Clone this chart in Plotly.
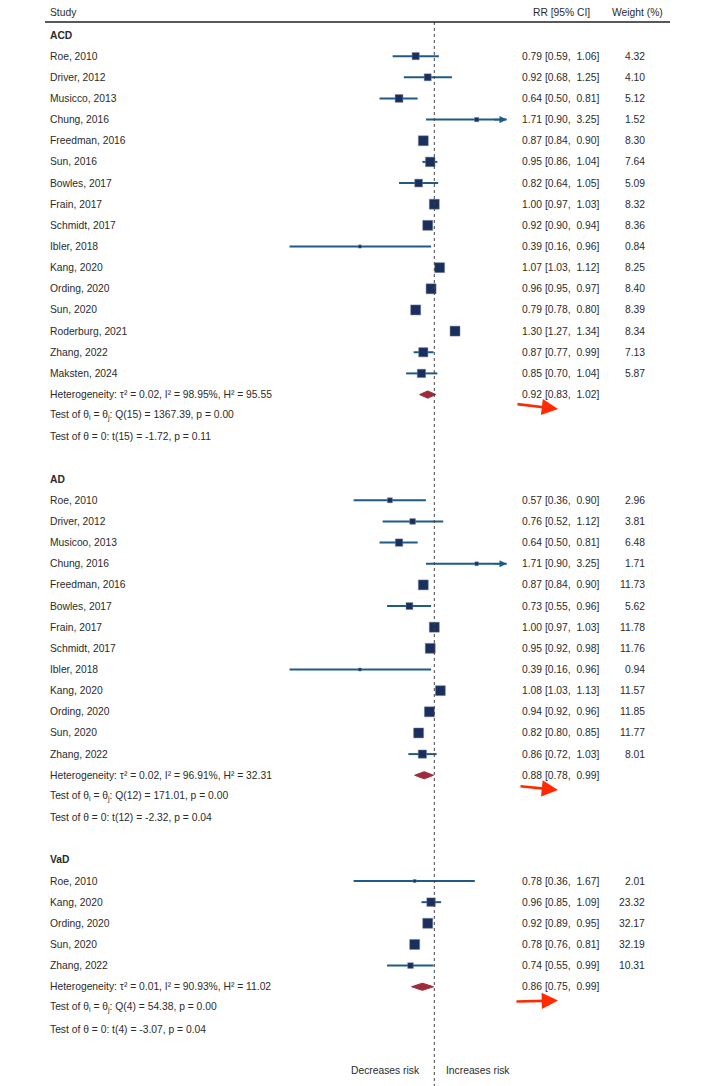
import math
import plotly.graph_objects as go

# ---------------- data ----------------
acd_studies = ["Roe, 2010", "Driver, 2012", "Musicco, 2013", "Chung, 2016", "Freedman, 2016",
               "Sun, 2016", "Bowles, 2017", "Frain, 2017", "Schmidt, 2017", "Ibler, 2018",
               "Kang, 2020", "Ording, 2020", "Sun, 2020", "Roderburg, 2021", "Zhang, 2022",
               "Maksten, 2024"]
acd_rr = [0.79, 0.92, 0.64, 1.71, 0.87, 0.95, 0.82, 1.00, 0.92, 0.39, 1.07, 0.96, 0.79, 1.30, 0.87, 0.85]
acd_lo = [0.59, 0.68, 0.50, 0.90, 0.84, 0.86, 0.64, 0.97, 0.90, 0.16, 1.03, 0.95, 0.78, 1.27, 0.77, 0.70]
acd_hi = [1.06, 1.25, 0.81, 3.25, 0.90, 1.04, 1.05, 1.03, 0.94, 0.96, 1.12, 0.97, 0.80, 1.34, 0.99, 1.04]
acd_w = [4.32, 4.10, 5.12, 1.52, 8.30, 7.64, 5.09, 8.32, 8.36, 0.84, 8.25, 8.40, 8.39, 8.34, 7.13, 5.87]
acd_overall = [0.92, 0.83, 1.02]
acd_stats = ["Heterogeneity: τ² = 0.02, I² = 98.95%, H² = 95.55",
             "Test of θ<sub>i</sub> = θ<sub>j</sub>: Q(15) = 1367.39, p = 0.00",
             "Test of θ = 0: t(15) = -1.72, p = 0.11"]

ad_studies = ["Roe, 2010", "Driver, 2012", "Musicoo, 2013", "Chung, 2016", "Freedman, 2016",
              "Bowles, 2017", "Frain, 2017", "Schmidt, 2017", "Ibler, 2018", "Kang, 2020",
              "Ording, 2020", "Sun, 2020", "Zhang, 2022"]
ad_rr = [0.57, 0.76, 0.64, 1.71, 0.87, 0.73, 1.00, 0.95, 0.39, 1.08, 0.94, 0.82, 0.86]
ad_lo = [0.36, 0.52, 0.50, 0.90, 0.84, 0.55, 0.97, 0.92, 0.16, 1.03, 0.92, 0.80, 0.72]
ad_hi = [0.90, 1.12, 0.81, 3.25, 0.90, 0.96, 1.03, 0.98, 0.96, 1.13, 0.96, 0.85, 1.03]
ad_w = [2.96, 3.81, 6.48, 1.71, 11.73, 5.62, 11.78, 11.76, 0.94, 11.57, 11.85, 11.77, 8.01]
ad_overall = [0.88, 0.78, 0.99]
ad_stats = ["Heterogeneity: τ² = 0.02, I² = 96.91%, H² = 32.31",
            "Test of θ<sub>i</sub> = θ<sub>j</sub>: Q(12) = 171.01, p = 0.00",
            "Test of θ = 0: t(12) = -2.32, p = 0.04"]

vad_studies = ["Roe, 2010", "Kang, 2020", "Ording, 2020", "Sun, 2020", "Zhang, 2022"]
vad_rr = [0.78, 0.96, 0.92, 0.78, 0.74]
vad_lo = [0.36, 0.85, 0.89, 0.76, 0.55]
vad_hi = [1.67, 1.09, 0.95, 0.81, 0.99]
vad_w = [2.01, 23.32, 32.17, 32.19, 10.31]
vad_overall = [0.86, 0.75, 0.99]
vad_stats = ["Heterogeneity: τ² = 0.01, I² = 90.93%, H² = 11.02",
             "Test of θ<sub>i</sub> = θ<sub>j</sub>: Q(4) = 54.38, p = 0.00",
             "Test of θ = 0: t(4) = -3.07, p = 0.04"]

sections = [
    ("ACD", acd_studies, acd_rr, acd_lo, acd_hi, acd_w, acd_overall, acd_stats),
    ("AD", ad_studies, ad_rr, ad_lo, ad_hi, ad_w, ad_overall, ad_stats),
    ("VaD", vad_studies, vad_rr, vad_lo, vad_hi, vad_w, vad_overall, vad_stats),
]

# ---------------- style / layout ----------------
FW, FH = 720, 1086
FONT = "Liberation Sans, Arial, sans-serif"
FS = 10.3
TXT = "#2b2b2b"
LINE_C = "#1f5b87"
SQ_C = "#1b2f5e"
DIA_C = "#9e2b3a"
RED = "#ff2a00"
X_NULL_PX = 434.3
PX_PER_LN = 79.0
ROW0_PX, ROW_H = 35.0, 21.15
CLIP_HI = 2.5
RED_ARROW_STYLE = [(-42, -5, 0.68), (-39, -4, 0.7), (-43, 1, 0.65)]  # (ax, ay, row offset)

x_lo_log = -X_NULL_PX / PX_PER_LN / math.log(10)
x_hi_log = (FW - X_NULL_PX) / PX_PER_LN / math.log(10)
y_top = -ROW0_PX / ROW_H
y_bot = (FH - ROW0_PX) / ROW_H


def px(x):
    return x / FW


fig = go.Figure()
ann = []


def txt(x, y, s, anchor="left", bold=False):
    ann.append(dict(x=px(x), y=y, xref="paper", yref="y", text=("<b>%s</b>" % s) if bold else s,
                    showarrow=False, xanchor=anchor, yanchor="middle",
                    font=dict(family=FONT, size=FS, color=TXT)))


ci_x, ci_y = [], []
sq_x, sq_y, sq_s = [], [], []
row = 0
for k, (name, studies, rr, lo, hi, w, ov, stats) in enumerate(sections):
    txt(48, row, name, bold=True)
    row += 1
    wmax = max(w)
    for s, r, l, h, wi in zip(studies, rr, lo, hi, w):
        txt(48, row, s)
        txt(520, row, "%.2f [%.2f,  %.2f]" % (r, l, h))
        txt(647, row, "%.2f" % wi, anchor="right")
        hh = min(h, CLIP_HI)
        ci_x += [l, hh, None]
        ci_y += [row, row, None]
        if h > CLIP_HI:
            ann.append(dict(x=math.log10(CLIP_HI), y=row, xref="x", yref="y", ax=-14, ay=0,
                            showarrow=True, arrowhead=2, arrowsize=0.9, arrowwidth=1.6,
                            arrowcolor=LINE_C, text=""))
        sq_x.append(r)
        sq_y.append(row)
        sq_s.append(max(3.0, 10.0 * math.sqrt(wi / wmax)))
        row += 1
    # overall diamond
    fig.add_trace(go.Scatter(x=[ov[1], ov[0], ov[2], ov[0], ov[1]],
                             y=[row, row - 0.17, row, row + 0.17, row],
                             mode="lines", fill="toself", fillcolor=DIA_C,
                             line=dict(color=DIA_C, width=1), hoverinfo="skip", showlegend=False))
    txt(48, row, stats[0])
    txt(520, row, "%.2f [%.2f,  %.2f]" % (ov[0], ov[1], ov[2]))
    # red annotation arrow
    ax_, ay_, dy = RED_ARROW_STYLE[k]
    ann.append(dict(x=px(558), y=row + dy, xref="paper", yref="y", ax=ax_, ay=ay_,
                    showarrow=True, arrowhead=2, arrowsize=1.25, arrowwidth=2.6,
                    arrowcolor=RED, text=""))
    txt(48, row + 1, stats[1])
    txt(48, row + 2, stats[2])
    row += 4

# CI lines
fig.add_trace(go.Scatter(x=ci_x, y=ci_y, mode="lines", line=dict(color=LINE_C, width=2),
                         hoverinfo="skip", showlegend=False))
# squares
fig.add_trace(go.Scatter(x=sq_x, y=sq_y, mode="markers",
                         marker=dict(symbol="square", size=sq_s, color=SQ_C, opacity=1,
                                     line=dict(color="#6f7f9c", width=0.5)),
                         hoverinfo="skip", showlegend=False))
# null line
fig.add_trace(go.Scatter(x=[1, 1], y=[-0.615, y_bot], mode="lines",
                         line=dict(color="#444444", width=1, dash="dot"),
                         hoverinfo="skip", showlegend=False))

# headers
for label, xx, anc in [("Study", 48, "left"), ("RR [95% CI]", 561, "center"), ("Weight (%)", 637, "center")]:
    ann.append(dict(x=px(xx), y=-1.087, xref="paper", yref="y", text=label, showarrow=False,
                    xanchor=anc, font=dict(family=FONT, size=FS, color=TXT)))
# bottom labels
ann.append(dict(x=0, y=48.94, xref="x", yref="y", text="Decreases risk", showarrow=False,
                xanchor="right", xshift=-12, font=dict(family=FONT, size=FS, color=TXT)))
ann.append(dict(x=0, y=48.94, xref="x", yref="y", text="Increases risk", showarrow=False,
                xanchor="left", xshift=10, font=dict(family=FONT, size=FS, color=TXT)))

fig.update_layout(
    width=FW, height=FH, margin=dict(l=0, r=0, t=0, b=0),
    plot_bgcolor="white", paper_bgcolor="white",
    xaxis=dict(type="log", range=[x_lo_log, x_hi_log], domain=[0, 1], visible=False, fixedrange=True),
    yaxis=dict(range=[y_bot, y_top], domain=[0, 1], visible=False, fixedrange=True),
    annotations=ann,
    shapes=[dict(type="line", xref="paper", yref="y", x0=px(45), x1=px(670), y0=-0.615, y1=-0.615,
                 line=dict(color="#222222", width=1.5))],
)

fig.write_html("out.html", config={"displayModeBar": False},
               post_script="document.body.style.margin='0';document.body.style.overflow='hidden';")
